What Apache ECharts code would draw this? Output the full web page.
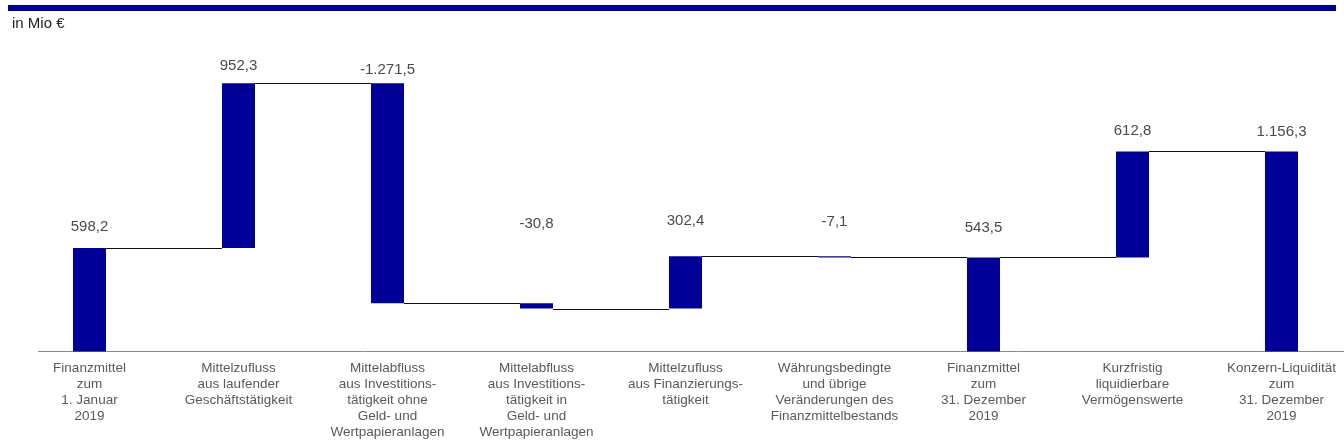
<!DOCTYPE html>
<html>
<head>
<meta charset="utf-8">
<script src="https://cdn.jsdelivr.net/npm/echarts@6/dist/echarts.min.js"></script>
<style>
html,body{margin:0;padding:0;background:#fff;overflow:hidden;width:1344px;height:448px;}
#chart{width:1370px;height:448px;}
</style>
</head>
<body>
<div id="chart"></div>
<script>
var categories = [
  "Finanzmittel\nzum\n1. Januar\n2019",
  "Mittelzufluss\naus laufender\nGeschäftstätigkeit",
  "Mittelabfluss\naus Investitions-\ntätigkeit ohne\nGeld- und\nWertpapieranlagen",
  "Mittelabfluss\naus Investitions-\ntätigkeit in\nGeld- und\nWertpapieranlagen",
  "Mittelzufluss\naus Finanzierungs-\ntätigkeit",
  "Währungsbedingte\nund übrige\nVeränderungen des\nFinanzmittelbestands",
  "Finanzmittel\nzum\n31. Dezember\n2019",
  "Kurzfristig\nliquidierbare\nVermögenswerte",
  "Konzern-Liquidität\nzum\n31. Dezember\n2019"
];
var values = [598.2, 952.3, -1271.5, -30.8, 302.4, -7.1, 543.5, 612.8, 1156.3];
var isTotal = [true, false, false, false, false, false, true, false, true];

// label distance above bar top (style, px)
var labelDistance = [14, 10, 6, 72, 28, 27, 22, 13, 12];

function fmt(v) {
  var neg = v < 0;
  var a = Math.abs(v).toFixed(1).split('.');
  var intPart = a[0].replace(/\B(?=(\d{3})+(?!\d))/g, '.');
  return (neg ? '-' : '') + intPart + ',' + a[1];
}

var baseData = [], barData = [], levels = [];
var running = 0;
for (var i = 0; i < values.length; i++) {
  var v = values[i];
  var lo, hi;
  if (isTotal[i]) {
    lo = 0; hi = v; running = v;
  } else {
    lo = Math.min(running, running + v);
    hi = Math.max(running, running + v);
    running = running + v;
  }
  baseData.push(lo);
  barData.push({
    value: hi - lo,
    label: { distance: labelDistance[i], formatter: fmt(v) }
  });
  levels.push(running);
}
var connectorData = [];
for (var j = 0; j < levels.length - 1; j++) connectorData.push([j, levels[j]]);

var BAR_W = 33;
var chart = echarts.init(document.getElementById('chart'));
chart.setOption({
  animation: false,
  title: {
    text: 'in Mio €', left: 7, top: 11,
    textStyle: { fontFamily: 'Arial, Liberation Sans', fontSize: 15, fontWeight: 'normal', color: '#222' }
  },
  graphic: [
    { type: 'rect', shape: { x: 8, y: 5, width: 1328, height: 6 }, style: { fill: '#000099' } },
    { type: 'line', shape: { x1: 38, y1: 351.5, x2: 1344, y2: 351.5 }, style: { stroke: '#8a8a8a', lineWidth: 1 } }
  ],
  grid: { left: 15, width: 1341, top: 5.5, height: 346 },
  xAxis: {
    type: 'category', data: categories,
    axisLine: { show: false }, axisTick: { show: false },
    axisLabel: {
      interval: 0, margin: 9, lineHeight: 16,
      fontFamily: 'Arial, Liberation Sans', fontSize: 13.5, color: '#595959'
    }
  },
  yAxis: { type: 'value', min: 0, max: 2000, show: false, splitLine: { show: false } },
  series: [
    {
      type: 'bar', stack: 'w', data: baseData, barWidth: BAR_W,
      itemStyle: { color: 'transparent' }, silent: true
    },
    {
      type: 'bar', stack: 'w', data: barData, barWidth: BAR_W,
      itemStyle: { color: '#000099' },
      label: {
        show: true, position: 'top',
        fontFamily: 'Arial, Liberation Sans', fontSize: 15, color: '#4a4a4a'
      }
    },
    {
      type: 'custom', data: connectorData, z: 5,
      renderItem: function (params, api) {
        var idx = api.value(0), lvl = api.value(1);
        var p = api.coord([idx, lvl]);
        var q = api.coord([idx + 1, lvl]);
        var y = Math.round(p[1]) + 0.5;
        return {
          type: 'line',
          shape: { x1: p[0] + BAR_W / 2, y1: y, x2: q[0] - BAR_W / 2, y2: y },
          style: { stroke: '#111', lineWidth: 1 }
        };
      }
    }
  ]
});
</script>
</body>
</html>
